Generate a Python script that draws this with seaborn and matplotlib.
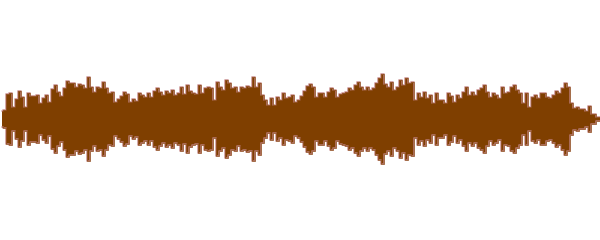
import matplotlib
matplotlib.use("Agg")
import matplotlib.pyplot as plt
import seaborn as sns
import numpy as np
import pandas as pd

# Envelope amplitude (pixels above centre line) read every 3 px across the waveform
amp_0_100 = [8, 9, 25, 26, 12, 20, 28, 22, 12, 26, 23, 23, 24, 16, 21, 24, 17, 30, 34, 27,
             23, 31, 38, 36, 36, 32, 35, 34, 31, 42, 32, 27, 32]
amp_100_200 = [31, 37, 31, 26, 27, 17, 20, 23, 27, 25, 17, 20, 18, 26, 24, 22, 26, 22, 28, 31,
               27, 24, 28, 26, 29, 24, 26, 32, 25, 34, 28, 26, 25]
amp_200_300 = [34, 26, 31, 32, 31, 19, 37, 32, 29, 39, 36, 31, 32, 27, 32, 31, 33, 32, 42, 32,
               36, 24, 19, 14, 21, 14, 22, 19, 26, 21, 22, 24, 17]
amp_300_400 = [19, 23, 28, 33, 35, 32, 22, 26, 26, 22, 27, 31, 29, 22, 25, 26, 27, 31, 29, 34,
               37, 32, 29, 32, 29, 31, 36, 41, 45, 35, 32, 37, 29]
amp_400_500 = [32, 39, 34, 41, 36, 37, 19, 26, 22, 27, 21, 24, 16, 26, 19, 19, 16, 26, 23, 17,
               24, 21, 27, 32, 24, 27, 24, 29, 31, 34, 27, 22, 26]
amp_500_600 = [24, 21, 32, 26, 27, 32, 34, 29, 26, 16, 26, 12, 22, 24, 21, 26, 26, 22, 21, 24,
               28, 26, 31, 36, 32, 16, 11, 12, 10, 10, 8, 13, 5, 2]

amp = amp_0_100 + amp_100_200 + amp_200_300 + amp_300_400 + amp_400_500 + amp_500_600
pos = [i * 3 + 1.5 for i in range(len(amp))]
pos[-1] = 600

df = pd.DataFrame({"t": pos, "amp": amp})
df["neg"] = -df["amp"]

BROWN = "#7f3f00"
PINK = "#c08080"

fig = plt.figure(figsize=(6, 2.4), dpi=100)
ax = fig.add_axes([0, 0, 1, 1])
sns.set_style("white")

# faint pink edge on the peaks
sns.lineplot(data=df, x="t", y="amp", ax=ax, color=PINK, lw=1.2, sort=False,
             drawstyle="steps-mid", alpha=0.8)
sns.lineplot(data=df, x="t", y="neg", ax=ax, color=PINK, lw=1.2, sort=False,
             drawstyle="steps-mid", alpha=0.8)
ax.fill_between(df["t"], df["neg"], df["amp"], step="mid", color=BROWN, lw=0)
sns.lineplot(data=df, x="t", y="amp", ax=ax, color=BROWN, lw=0.4, sort=False,
             drawstyle="steps-mid")
sns.lineplot(data=df, x="t", y="neg", ax=ax, color=BROWN, lw=0.4, sort=False,
             drawstyle="steps-mid")

ax.set_xlim(0, 600)
ax.set_ylim(-121, 119)
ax.axis("off")
fig.patch.set_facecolor("white")
fig.savefig("out.png", dpi=100, facecolor="white")
